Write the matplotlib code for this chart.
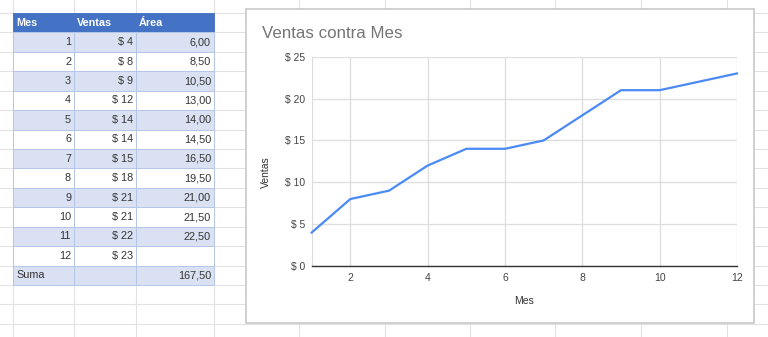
import matplotlib.pyplot as plt
from matplotlib.patches import Rectangle
from matplotlib.ticker import FuncFormatter

# data read from the sheet
mes = [1, 2, 3, 4, 5, 6, 7, 8, 9, 10, 11, 12]
ventas = [4, 8, 9, 12, 14, 14, 15, 18, 21, 21, 22, 23]
area = [6.00, 8.50, 10.50, 13.00, 14.00, 14.50, 16.50, 19.50, 21.00, 21.50, 22.50, None]
suma = 167.50
headers = ["Mes", "Ventas", "Área"]
xticks = [2, 4, 6, 8, 10, 12]
yticks = [0, 5, 10, 15, 20, 25]

W, H = 768, 337
plt.rcParams['font.family'] = ['Liberation Sans', 'DejaVu Sans']

fig = plt.figure(figsize=(W / 100, H / 100), dpi=100)
bg = fig.add_axes([0, 0, 1, 1])
bg.set_xlim(0, W)
bg.set_ylim(H, 0)
bg.axis('off')

# spreadsheet grid
col_x = [13, 74, 136, 214, 299, 385, 470, 555, 641, 727]
row_h = 19.43
top = 13
for x in col_x:
    bg.plot([x, x], [0, H], color='#e2e2e2', lw=0.8, zorder=0)
for k in range(-1, 17):
    y = top + k * row_h
    bg.plot([0, W], [y, y], color='#e2e2e2', lw=0.8, zorder=0)

# table
cols = col_x[:4]
txt = '#333333'
fs = 7.8
for j, h in enumerate(headers):
    bg.add_patch(Rectangle((cols[j], top), cols[j + 1] - cols[j], row_h,
                           facecolor='#4472c4', edgecolor='#4472c4', lw=0.6, zorder=2))
    bg.text(cols[j] + 3, top + row_h / 2, h, color='white', fontsize=fs,
            fontweight='bold', va='center', ha='left', zorder=3)

rows = []
for m, v, a in zip(mes, ventas, area):
    rows.append([str(m), f"$ {v}", "" if a is None else f"{a:.2f}".replace('.', ',')])
rows.append(["Suma", "", f"{suma:.2f}".replace('.', ',')])

for i, r in enumerate(rows):
    y0 = top + (i + 1) * row_h
    fill = '#d9e1f2' if i % 2 == 0 else 'white'
    for j, val in enumerate(r):
        bg.add_patch(Rectangle((cols[j], y0), cols[j + 1] - cols[j], row_h,
                               facecolor=fill, edgecolor='#b4c6e7', lw=0.7, zorder=2))
        if val == "":
            continue
        if i == len(rows) - 1 and j == 0:
            bg.text(cols[j] + 3, y0 + row_h / 2, val, color=txt, fontsize=fs,
                    va='center', ha='left', zorder=3)
        else:
            bg.text(cols[j + 1] - 3, y0 + row_h / 2, val, color=txt, fontsize=fs,
                    va='center', ha='right', zorder=3)

# chart box
bg.add_patch(Rectangle((245.5, 9), 508, 314, facecolor='white',
                       edgecolor='#c4c4c4', lw=1.1, zorder=4))
bg.text(261.5, 33, "Ventas contra Mes", color='#757575', fontsize=12.2,
        va='center', ha='left', zorder=5)
bg.text(266, 172, "Ventas", color='#333333', fontsize=7.5, rotation=90,
        va='center', ha='center', zorder=5)
bg.text(524.5, 301, "Mes", color='#333333', fontsize=7.5,
        va='center', ha='center', zorder=5)

# chart plot area
x0, x1 = 311.7, 737
y_top, y_bot = 56.7, 266
ax = fig.add_axes([x0 / W, 1 - y_bot / H, (x1 - x0) / W, (y_bot - y_top) / H])
ax.set_zorder(6)
ax.patch.set_alpha(0)
ax.plot(mes, ventas, color='#4a8af4', lw=1.6, zorder=3, clip_on=False)
ax.set_xlim(1, 12)
ax.set_ylim(0, 25)
ax.set_xticks(xticks)
ax.set_yticks(yticks)
ax.yaxis.set_major_formatter(FuncFormatter(lambda v, p: f"$ {v:.0f}"))
ax.grid(True, color='#dddddd', lw=0.9)
ax.axvline(1, color='#dddddd', lw=0.9, zorder=0)
for s in ['top', 'right', 'left']:
    ax.spines[s].set_visible(False)
ax.spines['bottom'].set_color('#333333')
ax.spines['bottom'].set_linewidth(1.0)
ax.spines['bottom'].set_zorder(4)
ax.tick_params(length=0, labelsize=7.5, labelcolor='#444444', pad=5)

fig.savefig('out.png', dpi=100)
